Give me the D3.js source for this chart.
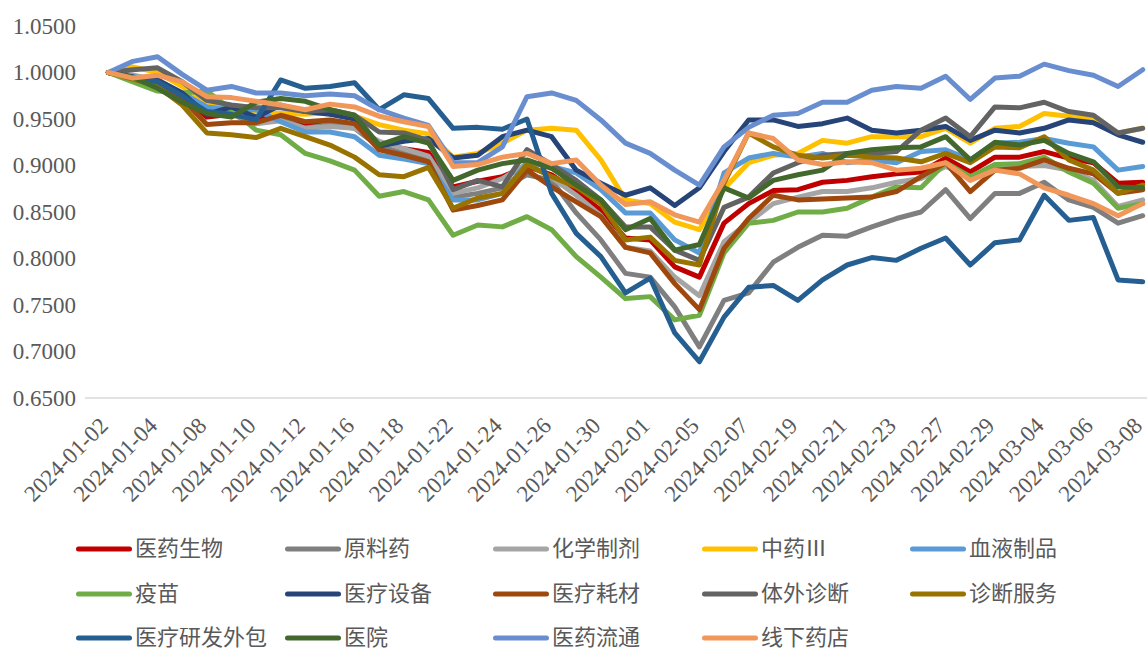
<!DOCTYPE html>
<html>
<head>
<meta charset="utf-8">
<script src="https://cdn.jsdelivr.net/npm/d3@7"></script>
<style>
  body { margin: 0; background: #fff; }
  .axis text { font-family: "Liberation Serif", "Times New Roman", serif; font-size: 23px; fill: #595959; }
  .legend text { font-family: "Noto Sans CJK SC", sans-serif; font-size: 22px; fill: #595959; }
</style>
</head>
<body>
<div id="chart"></div>
<script>
// 交易日
const dates = ["2024-01-02","2024-01-03","2024-01-04","2024-01-05","2024-01-08","2024-01-09","2024-01-10","2024-01-11","2024-01-12",
  "2024-01-15","2024-01-16","2024-01-17","2024-01-18","2024-01-19","2024-01-22","2024-01-23","2024-01-24","2024-01-25","2024-01-26",
  "2024-01-29","2024-01-30","2024-01-31","2024-02-01","2024-02-02","2024-02-05","2024-02-06","2024-02-07","2024-02-08",
  "2024-02-19","2024-02-20","2024-02-21","2024-02-22","2024-02-23","2024-02-26","2024-02-27","2024-02-28","2024-02-29",
  "2024-03-01","2024-03-04","2024-03-05","2024-03-06","2024-03-07","2024-03-08"];

const names = ["医药生物","原料药","化学制剂","中药Ⅲ","血液制品","疫苗","医疗设备","医疗耗材","体外诊断","诊断服务","医疗研发外包","医院","医药流通","线下药店"];
const colors = ["#C00000","#7F7F7F","#A5A5A5","#FFC000","#5B9BD5","#70AD47","#264478","#9E480E","#636363","#997300","#255E91","#43682B","#698ED0","#F1975A"];

const yiyaoshengwu = [1.000,0.996,0.990,0.975,0.952,0.955,0.950,0.955,0.945,0.948,0.944,0.922,0.918,0.914,0.877,0.883,0.888,0.899,0.890,0.872,0.852,0.822,0.820,0.791,0.780,0.838,0.859,0.873,0.874,0.882,0.884,0.888,0.891,0.893,0.908,0.893,0.909,0.909,0.915,0.908,0.903,0.881,0.882];
const yuanliaoyao = [1.000,0.995,0.990,0.975,0.958,0.955,0.945,0.950,0.940,0.944,0.940,0.920,0.913,0.906,0.866,0.870,0.876,0.890,0.884,0.849,0.820,0.784,0.780,0.748,0.705,0.755,0.763,0.796,0.812,0.825,0.824,0.834,0.843,0.850,0.874,0.843,0.870,0.870,0.882,0.863,0.855,0.838,0.846];
const huaxuezhiji = [1.000,0.997,0.992,0.978,0.963,0.960,0.945,0.948,0.940,0.942,0.940,0.926,0.918,0.910,0.870,0.876,0.886,0.902,0.887,0.868,0.846,0.812,0.808,0.780,0.760,0.818,0.839,0.859,0.866,0.872,0.872,0.876,0.882,0.886,0.899,0.888,0.897,0.899,0.900,0.895,0.884,0.856,0.863];
const zhongyao = [1.000,1.006,1.000,0.985,0.968,0.962,0.957,0.956,0.955,0.957,0.953,0.944,0.938,0.934,0.909,0.913,0.924,0.938,0.940,0.938,0.906,0.863,0.859,0.839,0.831,0.875,0.903,0.911,0.913,0.927,0.924,0.931,0.931,0.931,0.940,0.924,0.940,0.942,0.956,0.953,0.950,0.935,0.940];
const xueye = [1.000,0.996,0.990,0.978,0.963,0.960,0.960,0.947,0.936,0.936,0.931,0.911,0.907,0.902,0.863,0.863,0.870,0.903,0.899,0.892,0.874,0.849,0.849,0.820,0.806,0.892,0.908,0.913,0.909,0.913,0.903,0.906,0.903,0.915,0.917,0.906,0.924,0.925,0.929,0.924,0.920,0.895,0.899];
const yimiao = [1.000,0.990,0.980,0.978,0.980,0.960,0.938,0.933,0.913,0.905,0.895,0.867,0.872,0.863,0.825,0.836,0.834,0.845,0.831,0.802,0.780,0.757,0.759,0.734,0.739,0.806,0.838,0.841,0.850,0.850,0.854,0.866,0.877,0.876,0.903,0.888,0.901,0.902,0.909,0.893,0.881,0.854,0.859];
const shebei = [1.000,0.995,0.992,0.978,0.955,0.963,0.952,0.965,0.958,0.955,0.950,0.921,0.926,0.929,0.908,0.911,0.931,0.938,0.931,0.895,0.881,0.868,0.876,0.857,0.876,0.915,0.949,0.949,0.942,0.945,0.951,0.938,0.935,0.938,0.942,0.927,0.938,0.935,0.940,0.949,0.946,0.933,0.925];
const haocai = [1.000,0.995,0.990,0.972,0.944,0.946,0.946,0.954,0.947,0.949,0.945,0.917,0.911,0.904,0.852,0.857,0.863,0.895,0.877,0.861,0.845,0.812,0.806,0.773,0.745,0.811,0.843,0.868,0.863,0.864,0.865,0.866,0.872,0.888,0.903,0.872,0.895,0.897,0.906,0.897,0.891,0.870,0.874];
const tiwai = [1.000,1.003,1.005,0.990,0.970,0.965,0.962,0.962,0.958,0.960,0.954,0.936,0.935,0.927,0.874,0.884,0.877,0.917,0.901,0.884,0.863,0.834,0.834,0.809,0.798,0.855,0.866,0.892,0.903,0.911,0.913,0.913,0.915,0.938,0.951,0.931,0.963,0.962,0.968,0.958,0.954,0.935,0.940];
const zhenduan = [1.000,0.993,0.985,0.965,0.935,0.933,0.930,0.940,0.931,0.922,0.909,0.890,0.888,0.898,0.854,0.865,0.870,0.901,0.888,0.877,0.859,0.820,0.823,0.798,0.793,0.881,0.935,0.920,0.911,0.908,0.911,0.909,0.908,0.904,0.913,0.903,0.920,0.919,0.931,0.906,0.895,0.870,0.879];
const yanfa = [1.000,0.995,0.990,0.975,0.958,0.955,0.949,0.992,0.983,0.985,0.989,0.960,0.976,0.972,0.940,0.941,0.939,0.950,0.870,0.827,0.802,0.763,0.779,0.720,0.689,0.737,0.769,0.771,0.755,0.777,0.793,0.801,0.798,0.811,0.822,0.793,0.817,0.820,0.868,0.841,0.844,0.777,0.775];
const yiyuan = [1.000,0.995,0.983,0.968,0.956,0.952,0.968,0.972,0.969,0.960,0.954,0.922,0.931,0.924,0.884,0.895,0.902,0.906,0.897,0.879,0.863,0.831,0.843,0.809,0.815,0.876,0.865,0.884,0.890,0.895,0.913,0.917,0.919,0.920,0.931,0.906,0.925,0.922,0.927,0.913,0.904,0.877,0.876];
const liutong = [1.000,1.012,1.017,0.998,0.981,0.985,0.978,0.978,0.975,0.977,0.975,0.960,0.951,0.943,0.903,0.903,0.920,0.974,0.978,0.970,0.949,0.924,0.913,0.895,0.879,0.920,0.941,0.954,0.956,0.968,0.968,0.981,0.985,0.983,0.996,0.971,0.994,0.996,1.009,1.002,0.997,0.985,1.003];
const yaodian = [1.000,0.994,0.997,0.990,0.974,0.973,0.969,0.965,0.960,0.966,0.963,0.953,0.947,0.942,0.899,0.901,0.909,0.913,0.902,0.906,0.879,0.858,0.861,0.847,0.839,0.884,0.935,0.929,0.906,0.901,0.904,0.903,0.895,0.897,0.903,0.884,0.895,0.891,0.876,0.868,0.859,0.846,0.859];

const values = [yiyaoshengwu,yuanliaoyao,huaxuezhiji,zhongyao,xueye,yimiao,shebei,haocai,tiwai,zhenduan,yanfa,yiyuan,liutong,yaodian];
const yTicks = [0.65,0.70,0.75,0.80,0.85,0.90,0.95,1.00,1.05];
const xTicks = dates.filter(function(d,i){ return i % 2 === 0; });

const width = 1147;
const height = 650;

const svg = d3.select("#chart").append("svg")
    .attr("width", width)
    .attr("height", height);

const x = d3.scalePoint()
    .domain(dates)
    .range([108.3, 1142.7]);

const y = d3.scaleLinear()
    .domain([0.65, 1.05])
    .range([398, 26]);

// 底部横线
svg.append("line")
    .attr("x1", 85)
    .attr("x2", width)
    .attr("y1", y(0.65))
    .attr("y2", y(0.65))
    .attr("stroke", "#D9D9D9")
    .attr("stroke-width", 1.5);

svg.append("g")
    .attr("class", "axis")
    .attr("transform", "translate(85,0)")
    .call(d3.axisLeft(y).tickValues(yTicks).tickSize(0).tickPadding(9).tickFormat(d3.format(".4f")))
    .call(function(g){ g.select(".domain").remove(); });

const xAxis = svg.append("g")
    .attr("class", "axis")
    .attr("transform", "translate(0," + y(0.65) + ")")
    .call(d3.axisBottom(x).tickValues(xTicks).tickSize(0))
    .call(function(g){ g.select(".domain").remove(); });

xAxis.selectAll("text")
    .attr("y", 0)
    .attr("dy", 0)
    .attr("text-anchor", "end")
    .attr("transform", "translate(0.5,29) rotate(-45)");

const line = d3.line()
    .x(function(d,i){ return x(dates[i]); })
    .y(function(d){ return y(d); });

svg.append("g")
    .selectAll("path")
    .data(values)
    .enter().append("path")
    .attr("d", line)
    .attr("fill", "none")
    .attr("stroke", function(d,i){ return colors[i]; })
    .attr("stroke-width", 5)
    .attr("stroke-linejoin", "round")
    .attr("stroke-linecap", "round");

// 图例
const legendX = [76, 285, 493, 702, 910];
const legendY = [549, 594, 638];

const legend = svg.append("g")
    .attr("class", "legend")
    .selectAll("g")
    .data(names)
    .enter().append("g")
    .attr("transform", function(d,i){ return "translate(" + legendX[i % 5] + "," + legendY[Math.floor(i / 5)] + ")"; });

legend.append("line")
    .attr("x1", 2.5)
    .attr("x2", 53.5)
    .attr("stroke", function(d,i){ return colors[i]; })
    .attr("stroke-width", 5)
    .attr("stroke-linecap", "round");

legend.append("text")
    .attr("x", 59)
    .attr("dy", "0.34em")
    .text(function(d){ return d; });
</script>
</body>
</html>
